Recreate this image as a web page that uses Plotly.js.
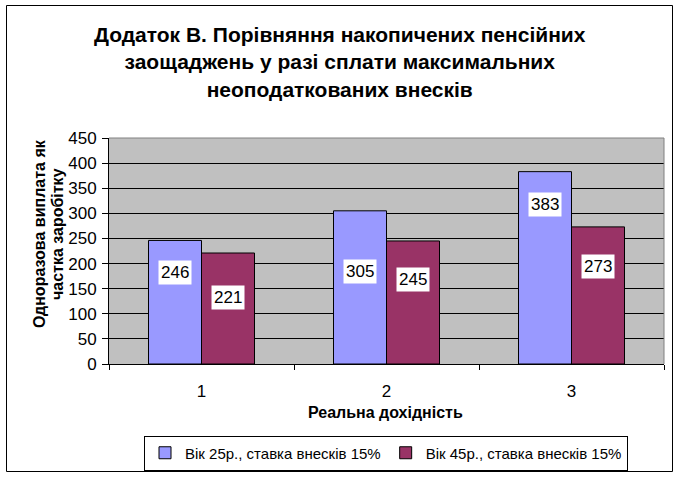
<!DOCTYPE html>
<html><head><meta charset="utf-8">
<script src="https://cdn.plot.ly/plotly-3.0.1.min.js"></script>
<style>html,body{margin:0;padding:0;background:#fff}#chart{width:680px;height:477px}</style>
</head><body><div id="chart"></div>
<script>
var categories = ['1', '2', '3'];
var seriesNames = ['Вік 25р., ставка внесків 15%', 'Вік 45р., ставка внесків 15%'];
var age25 = [246, 305, 383];
var age45 = [221, 245, 273];
var yTicks = [0, 50, 100, 150, 200, 250, 300, 350, 400, 450];
// label box centres (chart-value units), as placed in the reference
var labelY25 = [182, 184, 317];
var labelY45 = [133, 168, 194];

var W = 680, H = 477, L = 109, R = 16, T = 138, B = 113;
var pw = W - L - R, ph = H - T - B;
function px(x){return (x - L)/pw;}
function py(y){return (H - B - y)/ph;}

var font = 'Arial, "Liberation Sans", sans-serif';
var traces = [
  {type:'bar', x:categories, y:age25, name:seriesNames[0],
   marker:{color:'#9999FF', line:{color:'#000', width:1}}},
  {type:'bar', x:categories, y:age45, name:seriesNames[1],
   marker:{color:'#993366', line:{color:'#000', width:1}}}
];
var ann = [];
var barPx = 53;
categories.forEach(function(c,i){
  ann.push({x:i, y:labelY25[i], xref:'x', yref:'y', text:String(age25[i]), showarrow:false,
    xshift:-barPx/2, bgcolor:'#fff', borderpad:2, font:{family:font,size:17,color:'#000'}});
  ann.push({x:i, y:labelY45[i], xref:'x', yref:'y', text:String(age45[i]), showarrow:false,
    xshift:barPx/2, bgcolor:'#fff', borderpad:2, font:{family:font,size:17,color:'#000'}});
});
ann.push({xref:'paper', yref:'paper', x:px(340), y:py(62), xanchor:'center', yanchor:'middle', showarrow:false,
  text:'<b>Додаток В. Порівняння накопичених пенсійних<br>заощаджень у разі сплати максимальних<br>неоподаткованих внесків</b>',
  font:{family:font, size:21, color:'#000'}});
ann.push({xref:'paper', yref:'paper', x:px(39), y:py(234), xanchor:'center', yanchor:'middle', showarrow:false, textangle:-90,
  text:'<b>Одноразова виплата як</b>', font:{family:font, size:16, color:'#000'}});
ann.push({xref:'paper', yref:'paper', x:px(57), y:py(234), xanchor:'center', yanchor:'middle', showarrow:false, textangle:-90,
  text:'<b>частка заробітку</b>', font:{family:font, size:16, color:'#000'}});
ann.push({xref:'paper', yref:'paper', x:px(385), y:py(412), xanchor:'center', yanchor:'middle', showarrow:false,
  text:'<b>Реальна дохідність</b>', font:{family:font, size:16, color:'#000'}});

var layout = {
  width:W, height:H, margin:{l:L, r:R, t:T, b:B, autoexpand:false},
  paper_bgcolor:'#fff', plot_bgcolor:'#C0C0C0',
  showlegend:true, bargap:0.427, bargroupgap:0,
  font:{family:font, size:17, color:'#000'},
  xaxis:{type:'category', range:[-0.5, 2.5], showgrid:false, showline:true, linecolor:'#000', linewidth:1,
    ticks:'outside', tickson:'boundaries', ticklen:5, tickcolor:'#000', tickfont:{size:17},
    ticklabelstandoff:12, zeroline:false, fixedrange:true},
  yaxis:{range:[0,450], tickvals:yTicks, ticks:'outside', ticklen:6, tickcolor:'#000', tickwidth:1,
    showline:true, linecolor:'#000', linewidth:1, gridcolor:'#000', gridwidth:1, zeroline:false,
    tickfont:{size:17}, ticklabelstandoff:2, fixedrange:true},
  legend:{orientation:'h', x:px(386), xanchor:'center', y:py(453), yanchor:'middle',
    bordercolor:'#000', borderwidth:1, bgcolor:'#fff', font:{size:15}, traceorder:'normal',
    itemwidth:30, tracegroupgap:0},
  annotations:ann,
  shapes:[
    {type:'rect', xref:'paper', yref:'paper', x0:px(6.5), x1:px(672.5), y0:py(5.5), y1:py(471.5),
     line:{color:'#000', width:1}, fillcolor:'rgba(0,0,0,0)', layer:'below'},
    {type:'line', xref:'paper', yref:'paper', x0:0, x1:1, y0:1, y1:1, line:{color:'#808080', width:1}},
    {type:'line', xref:'paper', yref:'paper', x0:1, x1:1, y0:0, y1:1, line:{color:'#808080', width:1}}
  ]
};
Plotly.newPlot('chart', traces, layout, {displayModeBar:false, staticPlot:true});
</script></body></html>
